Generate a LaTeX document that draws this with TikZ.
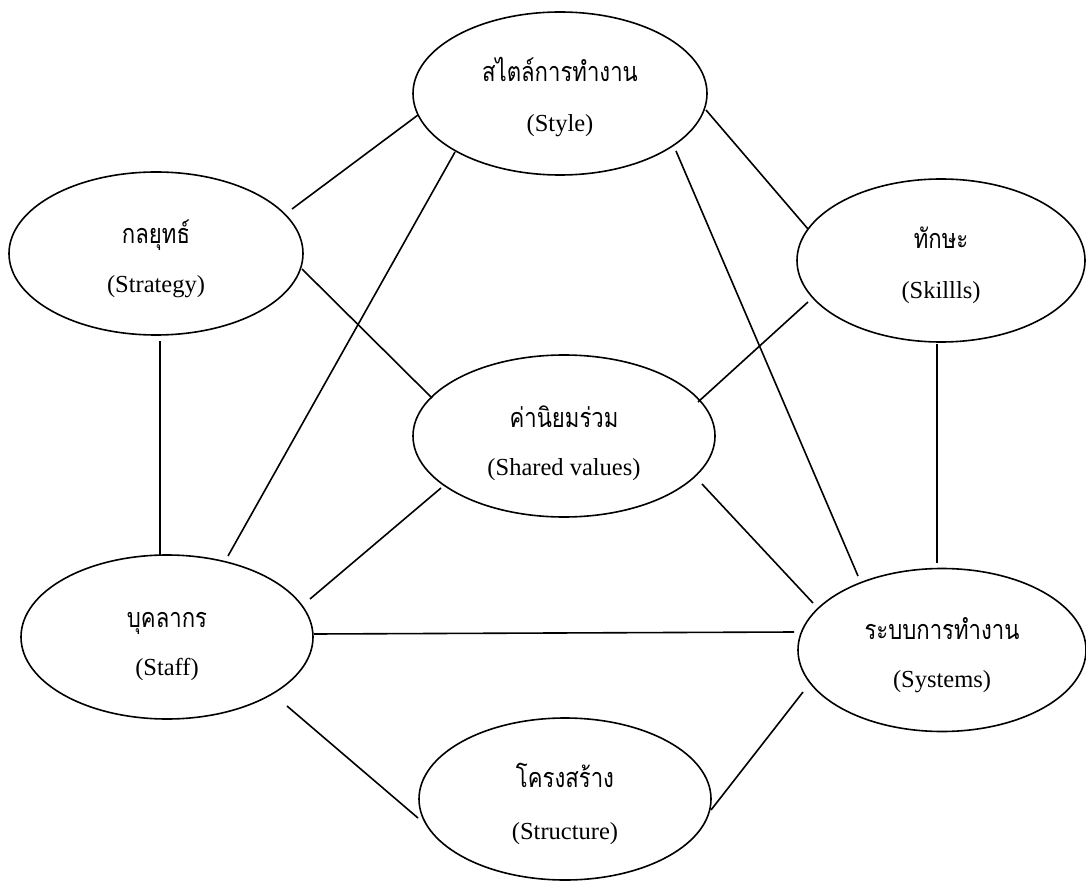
\documentclass[tikz,border=0pt]{standalone}
\usepackage{fontspec}
\setmainfont{Liberation Serif}
\newfontfamily\thaifont[Script=Thai, FakeStretch=0.82]{Loma}
\usetikzlibrary{shapes.geometric}
\tikzset{
  ell/.style={draw, ellipse, line width=1.6pt, inner sep=0pt},
  th/.style={anchor=base, font=\thaifont\fontsize{27}{29}\selectfont},
  en/.style={anchor=base, font=\fontsize{24.5}{27}\selectfont},
  link/.style={line width=1.6pt}
}
\begin{document}
\begin{tikzpicture}[x=1pt,y=-1pt]
\useasboundingbox (0,0) rectangle (1086,882);
% ellipses
\node[ell, minimum width=294pt, minimum height=163pt] (style) at (560,93.5) {};
\node[ell, minimum width=294pt, minimum height=163pt] (strategy) at (156,253.5) {};
\node[ell, minimum width=288pt, minimum height=163pt] (skills) at (941,260.5) {};
\node[ell, minimum width=302pt, minimum height=162pt] (shared) at (564,436) {};
\node[ell, minimum width=292pt, minimum height=164pt] (staff) at (167,637) {};
\node[ell, minimum width=288pt, minimum height=163pt] (systems) at (942,650) {};
\node[ell, minimum width=292pt, minimum height=162pt] (structure) at (565,799) {};
% texts
\node[th] (styleT) at (560,82) {สไตล์การทำงาน};
\node[en] (styleE) at (560,132) {(Style)};
\node[th] (strategyT) at (156,244) {กลยุทธ์};
\node[en] (strategyE) at (156,293) {(Strategy)};
\node[th] (skillsT) at (941,249) {ทักษะ};
\node[en] (skillsE) at (941,299) {(Skillls)};
\node[th] (sharedT) at (564,427) {ค่านิยมร่วม};
\node[en] (sharedE) at (564,475) {(Shared values)};
\node[th] (staffT) at (167,627) {บุคลากร};
\node[en] (staffE) at (167,675) {(Staff)};
\node[th] (systemsT) at (942,639) {ระบบการทำงาน};
\node[en] (systemsE) at (942,687) {(Systems)};
\node[th] (structureT) at (565,787) {โครงสร้าง};
\node[en] (structureE) at (565,839) {(Structure)};
% connector end points
\coordinate (a1) at (292,209);  \coordinate (a2) at (418,115);
\coordinate (b1) at (706,110);  \coordinate (b2) at (808,229);
\coordinate (c1) at (302,269);  \coordinate (c2) at (432,398);
\coordinate (d1) at (808,302);  \coordinate (d2) at (698,402);
\coordinate (e1) at (455,152);  \coordinate (e2) at (228,556);
\coordinate (f1) at (676,151);  \coordinate (f2) at (858,576);
\coordinate (g1) at (160,341);  \coordinate (g2) at (160,555);
\coordinate (h1) at (937,344);  \coordinate (h2) at (937,563);
\coordinate (i1) at (441,488);  \coordinate (i2) at (310,599);
\coordinate (j1) at (702,484);  \coordinate (j2) at (813,603);
\coordinate (k1) at (314,634);  \coordinate (k2) at (794,632);
\coordinate (l1) at (287,706);  \coordinate (l2) at (418,818);
\coordinate (m1) at (711,810);  \coordinate (m2) at (803,692);
% connectors
\draw[link] (a1) -- (a2);
\draw[link] (b1) -- (b2);
\draw[link] (c1) -- (c2);
\draw[link] (d1) -- (d2);
\draw[link] (e1) -- (e2);
\draw[link] (f1) -- (f2);
\draw[link] (g1) -- (g2);
\draw[link] (h1) -- (h2);
\draw[link] (i1) -- (i2);
\draw[link] (j1) -- (j2);
\draw[link] (k1) -- (k2);
\draw[link] (l1) -- (l2);
\draw[link] (m1) -- (m2);
\end{tikzpicture}
\end{document}
